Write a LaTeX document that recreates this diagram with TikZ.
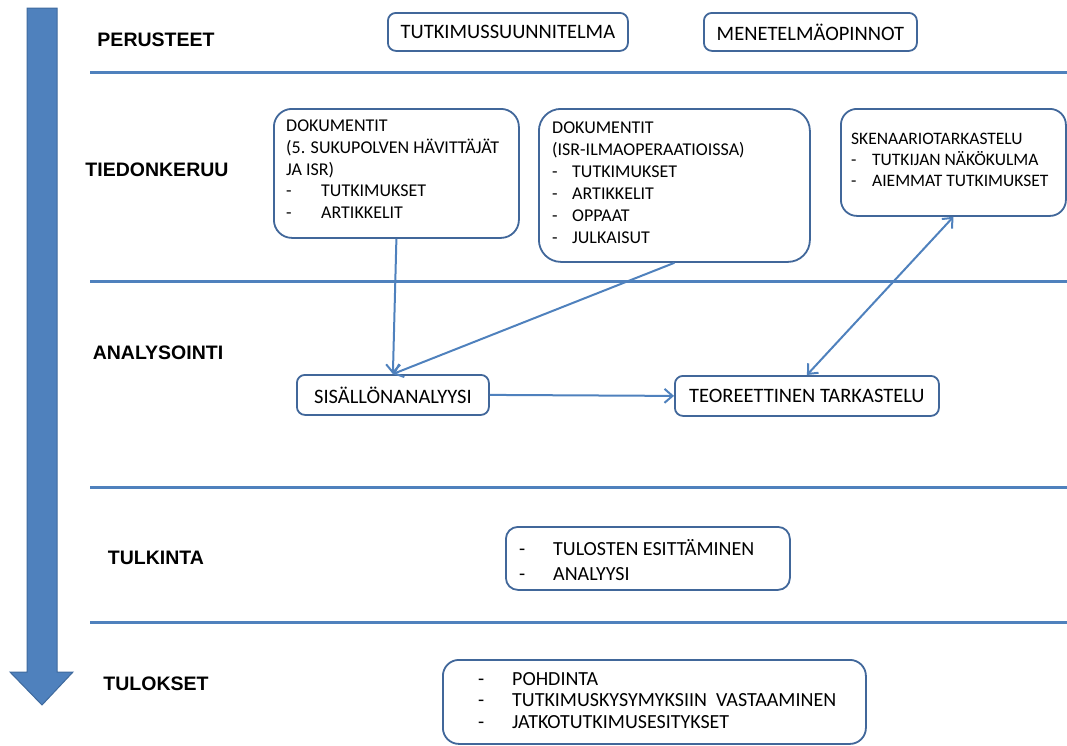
\documentclass[tikz,border=0pt]{standalone}
\usepackage{fontspec}
\setmainfont{Carlito}
\newfontfamily\phasefont{Liberation Sans}
\usetikzlibrary{arrows.meta}

\definecolor{lineblue}{HTML}{4F81BD}
\definecolor{boxblue}{HTML}{41679A}
\definecolor{arrowedge}{HTML}{3F6A9E}

% a dash followed by an item, the item starting #1 after the dash
\newcommand\dashitem[2]{\makebox[#1][l]{-}#2}

\begin{document}
\begin{tikzpicture}[x=1pt,y=-1pt,
  phase/.style={font=\phasefont\bfseries\fontsize{19.5}{22}\selectfont, inner sep=0pt},
  divider/.style={lineblue, line width=3pt},
  stepbox/.style={draw=boxblue, line width=1.8pt, rounded corners=#1, fill=white,
                  anchor=north west, inner sep=0pt},
  stepbox/.default=8pt,
  boxtext/.style={align=left, inner sep=0pt, anchor=north west},
  flow/.style={lineblue, line width=2pt, -{Straight Barb[length=8pt,width=14pt,line width=2pt]}},
  twoway/.style={lineblue, line width=2pt, {Straight Barb[length=8pt,width=14pt,line width=2pt]}-{Straight Barb[length=8pt,width=14pt,line width=2pt]}}
]
\useasboundingbox (0,0) rectangle (1067,745);

% timeline arrow on the left
\filldraw[fill=lineblue, draw=arrowedge, line width=1pt]
  (27,8) -- (57,8) -- (57,672) -- (73,672) -- (42,705) -- (10,672) -- (27,672) -- cycle;

% phase separators
\draw[divider] (90,72)  -- (1067,72);
\draw[divider] (90,281) -- (1067,281);
\draw[divider] (90,487) -- (1067,487);
\draw[divider] (90,622) -- (1067,622);

% phase names
\node[phase] (perusteet) at (156,40)  {PERUSTEET};
\node[phase] (tiedon)    at (157,170) {TIEDONKERUU};
\node[phase] (analys)    at (158,353) {ANALYSOINTI};
\node[phase] (tulkinta)  at (156,558) {TULKINTA};
\node[phase] (tulokset)  at (156,684) {TULOKSET};

% foundations
\node[stepbox, minimum width=240pt, minimum height=38pt,
      font=\fontsize{20.5}{24}\selectfont] (suunn) at (387,12) {TUTKIMUSSUUNNITELMA};
\node[stepbox, minimum width=213pt, minimum height=38pt,
      font=\fontsize{20.5}{24}\selectfont] (menet) at (703,12) {MENETELMÄOPINNOT};

% data collection
\node[stepbox=18pt, minimum width=245pt, minimum height=129pt] (dok1) at (273,108) {};
\node[boxtext, font=\fontsize{18}{21.7}\selectfont] (dok1txt) at (286,120)
  {DOKUMENTIT\\(5. SUKUPOLVEN HÄVITTÄJÄT\\JA ISR)\\
   \dashitem{35pt}{TUTKIMUKSET}\\\dashitem{35pt}{ARTIKKELIT}};

\node[stepbox=22pt, minimum width=271pt, minimum height=153pt] (dok2) at (538,108) {};
\node[boxtext, font=\fontsize{18}{22}\selectfont] (dok2txt) at (552,122)
  {DOKUMENTIT\\(ISR-ILMAOPERAATIOISSA)\\
   \dashitem{20pt}{TUTKIMUKSET}\\\dashitem{20pt}{ARTIKKELIT}\\
   \dashitem{20pt}{OPPAAT}\\\dashitem{20pt}{JULKAISUT}};

\node[stepbox=16pt, minimum width=225pt, minimum height=107pt] (sken) at (840,108) {};
\node[boxtext, font=\fontsize{17.5}{21}\selectfont] (skentxt) at (851,133)
  {SKENAARIOTARKASTELU\\
   \dashitem{21pt}{TUTKIJAN NÄKÖKULMA}\\\dashitem{21pt}{AIEMMAT TUTKIMUKSET}};

% analysis
\node[stepbox, minimum width=192pt, minimum height=40pt,
      font=\fontsize{20.5}{24}\selectfont] (sis) at (296,374) {SISÄLLÖNANALYYSI};
\node[stepbox, minimum width=264pt, minimum height=40pt,
      font=\fontsize{20.5}{24}\selectfont] (teo) at (674,375) {TEOREETTINEN TARKASTELU};

% interpretation
\node[stepbox=12pt, minimum width=284pt, minimum height=63pt] (tulk) at (505,526) {};
\node[boxtext, font=\fontsize{20}{25}\selectfont] (tulktxt) at (519,539)
  {\dashitem{34pt}{TULOSTEN ESITTÄMINEN}\\\dashitem{34pt}{ANALYYSI}};

% results
\node[stepbox=16pt, minimum width=423pt, minimum height=84pt] (tulos) at (442,659) {};
\node[boxtext, font=\fontsize{20}{21.7}\selectfont] (tulostxt) at (478,672)
  {\dashitem{34pt}{POHDINTA}\\\dashitem{34pt}{TUTKIMUSKYSYMYKSIIN\ \ VASTAAMINEN}\\
   \dashitem{34pt}{JATKOTUTKIMUSESITYKSET}};

% flows
\draw[flow] (dok1.south) -- (sis.north);
\draw[flow] (dok2.south) -- (sis.north);
\draw[flow] (sis.east) -- (teo.west);
\draw[twoway] (teo.north) -- (sken.south);
\end{tikzpicture}
\end{document}
